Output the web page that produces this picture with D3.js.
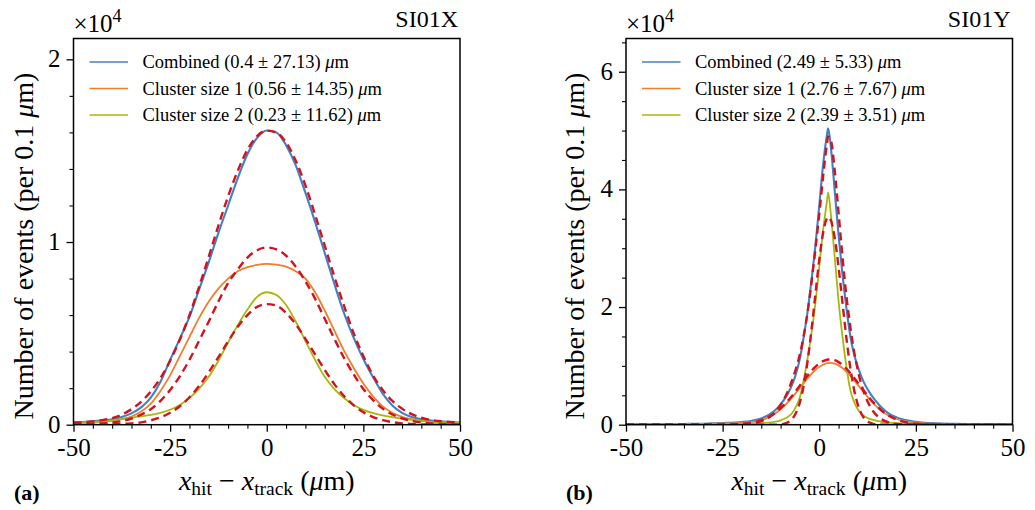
<!DOCTYPE html>
<html><head><meta charset="utf-8">
<script src="https://cdn.jsdelivr.net/npm/d3@7/dist/d3.min.js"></script>
<style>html,body{margin:0;padding:0;background:#fff;}svg{display:block;font-family:'Liberation Serif','Times New Roman','DejaVu Serif',serif;}</style>
</head><body>
<svg id="chart" width="1035" height="510"></svg>
<script>
// ---------- DATA (values in units of 10^4 events per 0.1 µm) ----------
const xLeft = [-50,-47.5,-45,-42.5,-40,-37.5,-35,-32.5,-30,-27.5,-25,-22.5,-20,-17.5,-15,-12.5,-10,-7.5,-5,-2.5,0,2.5,5,7.5,10,12.5,15,17.5,20,22.5,25,27.5,30,32.5,35,37.5,40,42.5,45,47.5,50];
const leftCombined = [0.012,0.015,0.019,0.024,0.03,0.042,0.062,0.095,0.148,0.235,0.355,0.47,0.59,0.74,0.89,1.05,1.2,1.35,1.48,1.57,1.61,1.6,1.53,1.42,1.27,1.11,0.94,0.77,0.61,0.475,0.36,0.26,0.17,0.105,0.065,0.042,0.03,0.023,0.018,0.014,0.012];
const leftSize1 = [0.008,0.01,0.012,0.016,0.021,0.03,0.045,0.072,0.115,0.185,0.27,0.375,0.48,0.585,0.675,0.745,0.8,0.84,0.862,0.875,0.88,0.876,0.865,0.84,0.8,0.725,0.625,0.515,0.405,0.31,0.225,0.155,0.1,0.065,0.043,0.03,0.022,0.016,0.013,0.01,0.008];
const leftSize2 = [0.01,0.012,0.015,0.019,0.024,0.031,0.039,0.046,0.054,0.065,0.082,0.108,0.146,0.197,0.262,0.35,0.45,0.545,0.63,0.7,0.725,0.71,0.655,0.565,0.458,0.355,0.262,0.195,0.146,0.108,0.081,0.063,0.051,0.041,0.033,0.026,0.02,0.016,0.013,0.011,0.01];
const leftFitCombined = [0.012,0.014,0.018,0.025,0.036,0.055,0.085,0.125,0.182,0.255,0.35,0.465,0.6,0.755,0.92,1.09,1.25,1.39,1.505,1.58,1.61,1.6,1.545,1.445,1.31,1.15,0.98,0.81,0.65,0.5,0.375,0.27,0.19,0.13,0.088,0.058,0.038,0.026,0.019,0.015,0.013];
const leftFitSize1 = [0.001,0.002,0.004,0.007,0.012,0.02,0.034,0.055,0.085,0.13,0.19,0.265,0.355,0.46,0.565,0.675,0.775,0.85,0.915,0.955,0.97,0.96,0.925,0.865,0.785,0.69,0.58,0.47,0.365,0.275,0.195,0.135,0.088,0.056,0.035,0.021,0.012,0.007,0.004,0.002,0.001];
const leftFitSize2 = [0,0,0,0.001,0.002,0.004,0.007,0.013,0.024,0.04,0.065,0.101,0.15,0.212,0.287,0.37,0.456,0.536,0.6,0.645,0.66,0.652,0.612,0.55,0.47,0.385,0.3,0.222,0.157,0.106,0.068,0.042,0.025,0.014,0.007,0.004,0.002,0.001,0,0,0];

const xRight = [-50,-45,-40,-35,-30,-25,-20,-18,-16,-14,-12,-11,-10,-9,-8,-7,-6,-5,-4,-3,-2,-1,0,1,2,2.3,3,4,5,6,7,8,9,10,11,12,13,14,15,16,18,20,22,25,30,35,40,45,50];
const rightCombined = [0.009,0.01,0.011,0.013,0.017,0.028,0.046,0.06,0.087,0.135,0.215,0.27,0.345,0.435,0.545,0.68,0.87,1.13,1.5,1.93,2.46,3.04,3.72,4.42,4.93,5.04,4.72,3.98,3.22,2.56,2.0,1.52,1.2,0.98,0.8,0.66,0.55,0.455,0.375,0.3,0.19,0.125,0.082,0.05,0.023,0.015,0.011,0.009,0.008];
const rightSize1 = [0.005,0.006,0.007,0.009,0.012,0.02,0.032,0.042,0.062,0.1,0.165,0.21,0.262,0.323,0.39,0.465,0.545,0.627,0.71,0.79,0.864,0.93,0.983,1.02,1.045,1.048,1.05,1.037,1.008,0.963,0.904,0.835,0.758,0.677,0.594,0.513,0.435,0.363,0.298,0.24,0.152,0.097,0.062,0.035,0.016,0.011,0.008,0.006,0.005];
const rightSize2 = [0.003,0.003,0.003,0.003,0.004,0.007,0.012,0.016,0.022,0.03,0.045,0.055,0.075,0.1,0.14,0.2,0.31,0.47,0.77,1.13,1.56,2.06,2.68,3.31,3.8,3.95,3.58,2.85,2.1,1.5,1.0,0.6,0.39,0.26,0.18,0.13,0.1,0.08,0.065,0.05,0.035,0.025,0.018,0.012,0.006,0.004,0.003,0.003,0.003];
const rightFitCombined = [0,0,0,0,0,0.001,0.008,0.018,0.04,0.085,0.175,0.245,0.335,0.45,0.59,0.76,0.96,1.2,1.52,1.92,2.42,2.98,3.58,4.22,4.78,4.9,4.84,4.32,3.6,2.86,2.2,1.68,1.25,0.92,0.66,0.47,0.33,0.225,0.15,0.098,0.038,0.013,0.004,0.001,0,0,0,0,0];
const rightFitSize1 = [0,0,0,0,0,0.002,0.014,0.029,0.056,0.102,0.174,0.222,0.278,0.343,0.415,0.494,0.578,0.665,0.753,0.837,0.916,0.984,1.04,1.081,1.104,1.108,1.11,1.096,1.064,1.015,0.953,0.879,0.797,0.711,0.623,0.538,0.455,0.379,0.311,0.25,0.154,0.089,0.048,0.017,0.002,0,0,0,0];
const rightFitSize2 = [0,0,0,0,0,0,0,0,0,0,0.001,0.002,0.007,0.018,0.044,0.099,0.203,0.385,0.673,1.086,1.615,2.215,2.8,3.264,3.51,3.53,3.477,3.177,2.677,2.08,1.49,0.984,0.6,0.336,0.174,0.083,0.037,0.015,0.006,0.002,0,0,0,0,0,0,0,0,0];

const seriesNames = ["Combined", "Cluster size 1", "Cluster size 2"];
const legendLeft = ["(0.4 \u00B1 27.13)", "(0.56 \u00B1 14.35)", "(0.23 \u00B1 11.62)"];
const legendRight = ["(2.49 \u00B1 5.33)", "(2.76 \u00B1 7.67)", "(2.39 \u00B1 3.51)"];
const panelTitles = ["SI01X", "SI01Y"];
const panelTags = ["(a)", "(b)"];
const xTicks = [-50, -25, 0, 25, 50];
const xTickLabels = ["-50", "-25", "0", "25", "50"];
const yTicksLeft = [0, 1, 2];
const yTicksRight = [0, 2, 4, 6];

// ---------- STYLE / LAYOUT ----------
const colors = ["#4280c4", "#f07e2e", "#a9b70a"];
const fitColor = "#d3121f";
const FONT = "'Liberation Serif','Times New Roman','DejaVu Serif',serif";

const panels = [
  {x0:73.5, x1:460, yTop:38.5, yBot:424.7, yMax:2.114, yTicks:yTicksLeft, minorStep:0.2,
   xs:xLeft, data:[leftCombined,leftSize1,leftSize2], fits:[leftFitCombined,leftFitSize1,leftFitSize2],
   legend:legendLeft, title:panelTitles[0], tag:panelTags[0], tagX:14, ylabX:33},
  {x0:626, x1:1012.5, yTop:38.5, yBot:424.7, yMax:6.565, yTicks:yTicksRight, minorStep:0.5,
   xs:xRight, data:[rightCombined,rightSize1,rightSize2], fits:[rightFitCombined,rightFitSize1,rightFitSize2],
   legend:legendRight, title:panelTitles[1], tag:panelTags[1], tagX:566, ylabX:584}
];

const svg = d3.select("#chart");

panels.forEach((p, pi) => {
  const x = d3.scaleLinear().domain([-50, 50]).range([p.x0, p.x1]);
  const y = d3.scaleLinear().domain([0, p.yMax]).range([p.yBot, p.yTop]);
  const g = svg.append("g");

  const clipId = "clip" + pi;
  svg.append("clipPath").attr("id", clipId).append("rect")
    .attr("x", p.x0).attr("y", p.yTop).attr("width", p.x1 - p.x0).attr("height", p.yBot - p.yTop);

  const plot = g.append("g").attr("clip-path", `url(#${clipId})`);
  const line = (vals) => d3.line()
      .x((d, i) => x(p.xs[i]))
      .y(d => y(d))
      .curve(d3.curveMonotoneX)(vals);

  // data lines
  p.data.forEach((vals, k) => {
    plot.append("path").attr("d", line(vals)).attr("fill", "none")
      .attr("stroke", colors[k]).attr("stroke-width", k === 0 ? 2.1 : 1.8)
      .attr("stroke-linejoin", "round");
  });
  // fit lines (red dashed)
  p.fits.forEach((vals) => {
    plot.append("path").attr("d", line(vals)).attr("fill", "none")
      .attr("stroke", fitColor).attr("stroke-width", 2.4)
      .attr("stroke-dasharray", "8,5");
  });

  // frame
  g.append("rect").attr("x", p.x0).attr("y", p.yTop)
    .attr("width", p.x1 - p.x0).attr("height", p.yBot - p.yTop)
    .attr("fill", "none").attr("stroke", "#000").attr("stroke-width", 1.5);

  // x axis
  const xAxis = d3.axisBottom(x).tickValues(xTicks)
    .tickFormat((d, i) => xTickLabels[i]).tickSize(7).tickPadding(7);
  const gx = g.append("g").attr("transform", `translate(0,${p.yBot})`).call(xAxis);
  gx.select(".domain").remove();
  gx.selectAll(".tick line").attr("stroke", "#000").attr("stroke-width", 1.3);
  gx.selectAll(".tick text").attr("font-family", FONT).attr("font-size", 25).attr("fill", "#000")
    .attr("dy", "0.71em");
  const xMinor = d3.axisBottom(x).tickValues(d3.range(-50, 50.1, 5).filter(v => v % 25 !== 0))
    .tickSize(4).tickFormat("");
  const gxm = g.append("g").attr("transform", `translate(0,${p.yBot})`).call(xMinor);
  gxm.select(".domain").remove();
  gxm.selectAll(".tick line").attr("stroke", "#000").attr("stroke-width", 1.1);

  // y axis
  const yAxis = d3.axisLeft(y).tickValues(p.yTicks).tickFormat(d3.format("d"))
    .tickSize(7).tickPadding(6);
  const gy = g.append("g").attr("transform", `translate(${p.x0},0)`).call(yAxis);
  gy.select(".domain").remove();
  gy.selectAll(".tick line").attr("stroke", "#000").attr("stroke-width", 1.3);
  gy.selectAll(".tick text").attr("font-family", FONT).attr("font-size", 25).attr("fill", "#000")
    .attr("dy", "0.3em");
  const minorVals = d3.range(0, p.yMax + 1e-9, p.minorStep)
    .filter(v => !p.yTicks.some(t => Math.abs(t - v) < 1e-6));
  const yMinor = d3.axisLeft(y).tickValues(minorVals).tickSize(4).tickFormat("");
  const gym = g.append("g").attr("transform", `translate(${p.x0},0)`).call(yMinor);
  gym.select(".domain").remove();
  gym.selectAll(".tick line").attr("stroke", "#000").attr("stroke-width", 1.1);

  // x10^4 multiplier
  const mult = g.append("text").attr("x", p.x0).attr("y", 31.5)
    .attr("font-family", FONT).attr("font-size", 25).attr("fill", "#000");
  mult.append("tspan").text("\u00D710");
  mult.append("tspan").attr("dy", -10).attr("font-size", 18).text("4");

  // panel title
  g.append("text").attr("x", p.x1 - 2).attr("y", 27).attr("text-anchor", "end")
    .attr("font-family", FONT).attr("font-size", 24).attr("fill", "#000").text(p.title);

  // legend
  const rowY = [62, 88.5, 115];
  seriesNames.forEach((name, k) => {
    g.append("line").attr("x1", p.x0 + 16).attr("x2", p.x0 + 54.5)
      .attr("y1", rowY[k]).attr("y2", rowY[k])
      .attr("stroke", colors[k]).attr("stroke-width", 1.7);
    const t = g.append("text").attr("x", p.x0 + 69).attr("y", rowY[k] + 6.3)
      .attr("font-family", FONT).attr("font-size", 18.5).attr("fill", "#000");
    t.append("tspan").text(name + " " + p.legend[k] + " ");
    t.append("tspan").attr("font-style", "italic").text("\u03BC");
    t.append("tspan").text("m");
  });

  // y label
  const yl = g.append("text")
    .attr("transform", `translate(${p.ylabX},246) rotate(-90)`)
    .attr("text-anchor", "middle").attr("font-family", FONT).attr("font-size", 28).attr("fill", "#000");
  yl.append("tspan").text("Number of events (per 0.1 ");
  yl.append("tspan").attr("font-style", "italic").text("\u03BC");
  yl.append("tspan").text("m)");

  // x label
  const xl = g.append("text").attr("x", (p.x0 + p.x1) / 2).attr("y", 490)
    .attr("text-anchor", "middle").attr("font-family", FONT).attr("font-size", 28).attr("fill", "#000");
  xl.append("tspan").attr("font-style", "italic").text("x");
  xl.append("tspan").attr("font-size", 19.5).attr("dy", 5).text("hit");
  xl.append("tspan").attr("dy", -5).text(" \u2212 ");
  xl.append("tspan").attr("font-style", "italic").text("x");
  xl.append("tspan").attr("font-size", 19.5).attr("dy", 5).text("track");
  xl.append("tspan").attr("dy", -5).text(" (");
  xl.append("tspan").attr("font-style", "italic").text("\u03BC");
  xl.append("tspan").text("m)");

  // panel tag
  g.append("text").attr("x", p.tagX).attr("y", 500)
    .attr("font-family", FONT).attr("font-size", 22).attr("font-weight", "bold").attr("fill", "#000")
    .text(p.tag);
});
</script>
</body></html>
